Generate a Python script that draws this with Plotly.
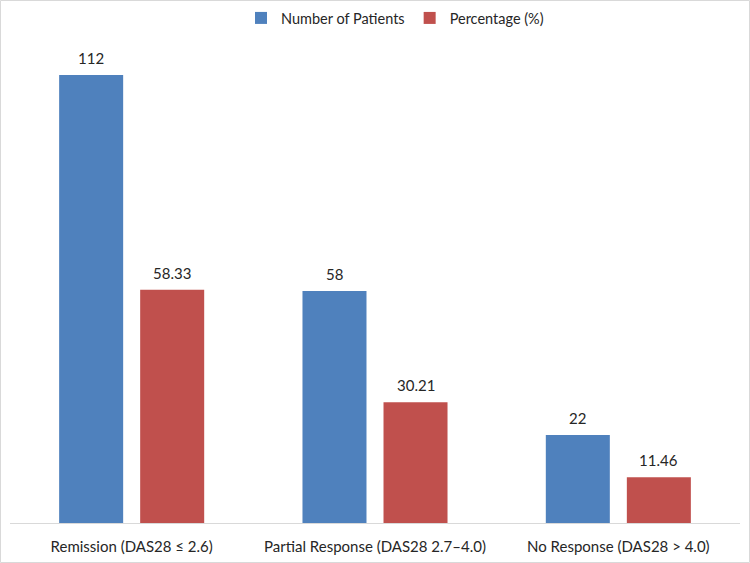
import plotly.graph_objects as go

categories = ["Remission (DAS28 ≤ 2.6)", "Partial Response (DAS28 2.7–4.0)", "No Response (DAS28 > 4.0)"]
patients = [112, 58, 22]
percentage = [58.33, 30.21, 11.46]
patient_labels = ["112", "58", "22"]
percentage_labels = ["58.33", "30.21", "11.46"]

FONT = "Lato, Open Sans, sans-serif"
TXT = "#262626"

fig = go.Figure()
fig.add_trace(go.Bar(
    name="Number of Patients", x=categories, y=patients,
    marker=dict(color="#4F81BD", line=dict(width=0)), offsetgroup="a",
))
fig.add_trace(go.Bar(
    name="Percentage (%)", x=categories, y=percentage,
    marker=dict(color="#C0504D", line=dict(width=0)), offsetgroup="b",
))

W, H = 750, 563
L, R, T, B = 10, 10, 43, 40
pw, ph = W - L - R, H - T - B
BARGAP, GROUPGAP = 0.334, 0.21
slot = (1 - BARGAP) / 2  # in category units

annotations = []
for i, c in enumerate(categories):
    for vals, labs, off in ((patients, patient_labels, -slot / 2), (percentage, percentage_labels, slot / 2)):
        annotations.append(dict(
            x=i + off, y=vals[i], xref="x", yref="y", text=labs[i],
            showarrow=False, yanchor="bottom", yshift=6,
            font=dict(size=15, color=TXT, family=FONT)))

fig.update_layout(
    width=W, height=H,
    margin=dict(l=L, r=R, t=T, b=B, autoexpand=False),
    paper_bgcolor="white", plot_bgcolor="white",
    barmode="group", bargap=BARGAP, bargroupgap=GROUPGAP,
    font=dict(family=FONT, size=15, color=TXT),
    showlegend=True,
    legend=dict(orientation="h", x=0.5 + 20 / W, xanchor="center", xref="container",
                y=1 - 18 / H, yanchor="middle", yref="container",
                font=dict(size=14.5, color=TXT, family=FONT),
                traceorder="normal"),
    xaxis=dict(showline=True, linecolor="#D9D9D9", linewidth=1, ticks="",
               showgrid=False, ticklabelstandoff=10, automargin=False,
               tickfont=dict(size=15, color=TXT, family=FONT)),
    yaxis=dict(range=[0, 120], visible=False, showgrid=False, zeroline=False),
    annotations=annotations,
    shapes=[dict(type="rect", xref="paper", yref="paper",
                 x0=-(L - 0.5) / pw, x1=1 + (R - 0.5) / pw,
                 y0=-(B - 0.5) / ph, y1=1 + (T - 0.5) / ph,
                 line=dict(color="#D9D9D9", width=1), layer="below")],
)

fig.write_html("out.html")
